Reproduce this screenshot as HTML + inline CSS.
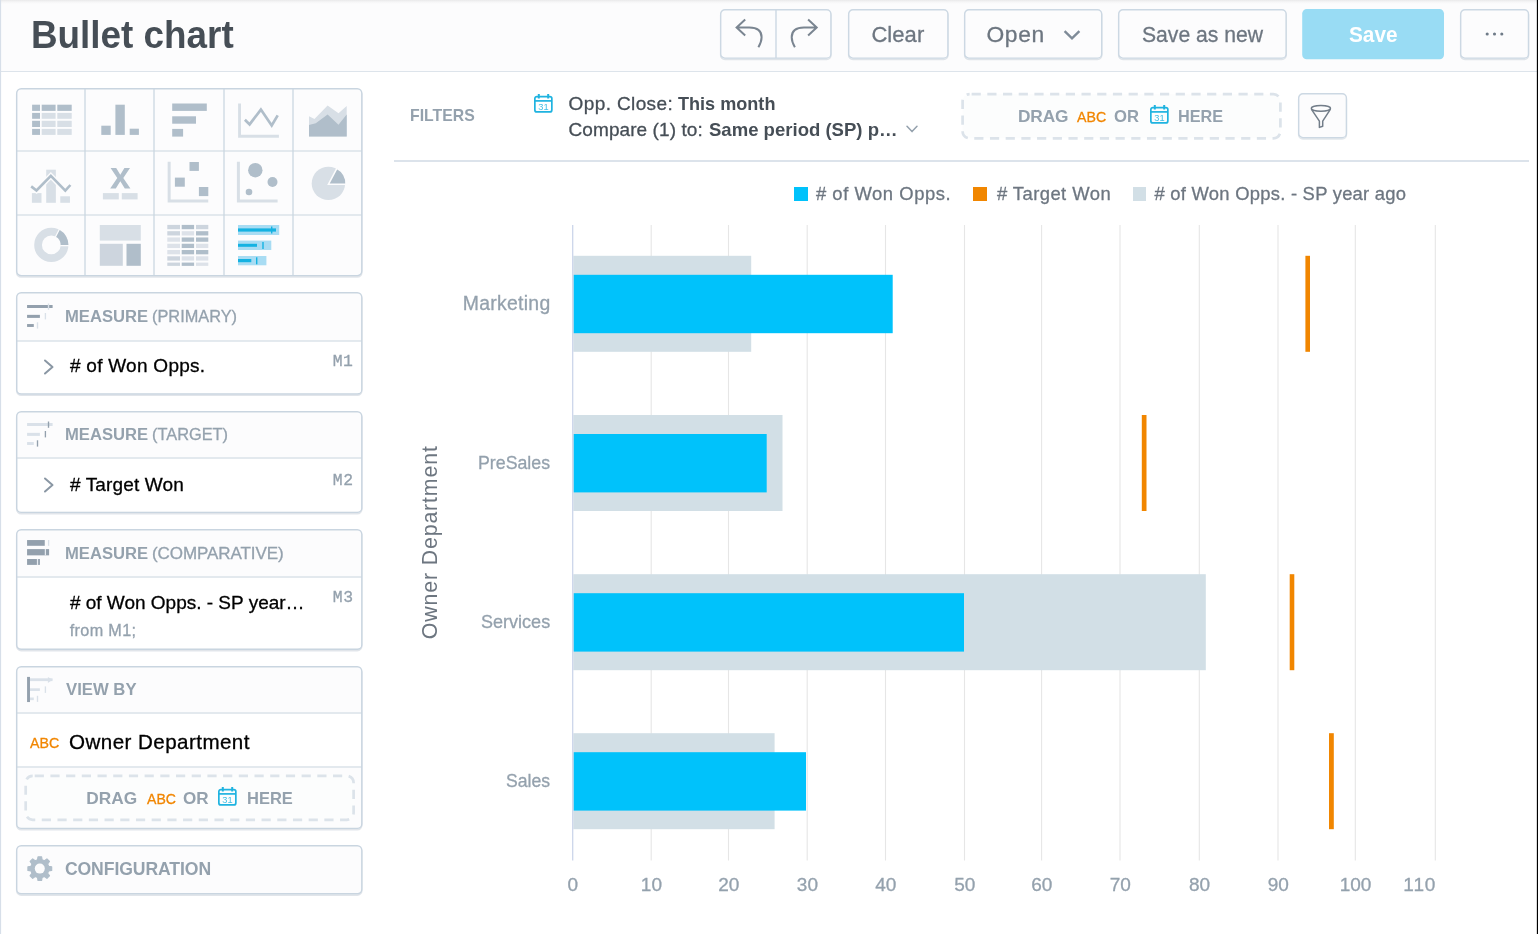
<!DOCTYPE html>
<html lang="en"><head><meta charset="utf-8"><title>Bullet chart</title><style>
html,body{margin:0;padding:0;}
body{width:1538px;height:934px;overflow:hidden;background:#fff;position:relative;font-family:"Liberation Sans",sans-serif;}
.a{position:absolute;box-sizing:border-box;display:block;}
.t{position:absolute;white-space:nowrap;line-height:1;font-family:"Liberation Sans",sans-serif;font-weight:400;}
.t{-webkit-text-stroke:0.3px currentColor;}
.t.b{font-weight:700;-webkit-text-stroke:0;}
.t.m{font-family:"Liberation Mono",monospace;}
</style></head>
<body>
<header>
<div class="a" style="left:0.00px;top:0.00px;width:1537.00px;height:71.00px;background:#fcfcfd;"></div>
<div class="a" style="left:0.00px;top:0.00px;width:1537.00px;height:4.00px;background:linear-gradient(#e9e9ea,#f6f6f7 50%,#fcfcfd);"></div>
<div class="a" style="left:0.00px;top:71.00px;width:1537.00px;height:1.00px;background:#dde4eb;"></div>
<svg class="a" style="left:0.00px;top:0.00px;" width="3" height="934" viewBox="0 0 3 934"><rect x="0" y="0" width="1.1" height="934" fill="#d7dfe9"/></svg>
<svg class="a" style="left:1534.00px;top:0.00px;" width="4" height="934" viewBox="0 0 4 934"><rect x="2.85" y="0" width="1.15" height="934" fill="#000"/></svg>
<span class="t b" style="left:30.73px;top:15px;font-size:39.50px;color:#464e56;transform-origin:0 0;transform:scaleX(0.9329);">Bullet chart</span>
<svg class="a" style="left:716.10px;top:5.10px;" width="119.6" height="57.8" viewBox="0 0 119.6 57.8"><rect x="4.70" y="6.00" width="110.20" height="48.40" rx="4.20" fill="none" stroke="rgba(20,56,93,0.12)" stroke-width="1.6"/><rect x="4.70" y="4.70" width="110.20" height="48.40" rx="4.20" fill="#fcfcfd" stroke="#ccd8e3" stroke-width="1.40"/></svg>
<svg class="a" style="left:773.80px;top:9.80px;" width="4" height="48.4" viewBox="0 0 4 48.4"><path d="M2 0 V48.40" stroke="#ccd8e3" stroke-width="1.40"/></svg>
<svg class="a" style="left:730.00px;top:14.00px;" width="40" height="40" viewBox="730 14 40 40"><path d="M745.2 19.6 L736.6 27.5 L745.2 35.4 M737 27.5 H749.3 C757 27.5 761.6 31 761.6 37.3 C761.6 41 760 44.5 758.4 47.3" fill="none" stroke="#7a8591" stroke-width="2" stroke-linecap="butt" stroke-linejoin="miter"/></svg>
<svg class="a" style="left:786.00px;top:14.00px;" width="40" height="40" viewBox="786 14 40 40"><path d="M808.1 19.6 L816.7 27.5 L808.1 35.4 M816.3 27.5 H804 C796.3 27.5 791.7 31 791.7 37.3 C791.7 41 793.3 44.5 794.9 47.3" fill="none" stroke="#7a8591" stroke-width="2" stroke-linecap="butt" stroke-linejoin="miter"/></svg>
<svg class="a" style="left:843.50px;top:5.10px;" width="108.6" height="57.8" viewBox="0 0 108.6 57.8"><rect x="4.70" y="6.00" width="99.20" height="48.40" rx="4.20" fill="none" stroke="rgba(20,56,93,0.12)" stroke-width="1.6"/><rect x="4.70" y="4.70" width="99.20" height="48.40" rx="4.20" fill="#fcfcfd" stroke="#ccd8e3" stroke-width="1.40"/></svg>
<span class="t" style="left:871.38px;top:24px;font-size:22.00px;color:#6d7680;letter-spacing:0.077px;">Clear</span>
<svg class="a" style="left:959.90px;top:5.10px;" width="146.4" height="57.8" viewBox="0 0 146.4 57.8"><rect x="4.70" y="6.00" width="137.00" height="48.40" rx="4.20" fill="none" stroke="rgba(20,56,93,0.12)" stroke-width="1.6"/><rect x="4.70" y="4.70" width="137.00" height="48.40" rx="4.20" fill="#fcfcfd" stroke="#ccd8e3" stroke-width="1.40"/></svg>
<span class="t" style="left:986.42px;top:23px;font-size:22.80px;color:#6d7680;letter-spacing:0.695px;">Open</span>
<svg class="a" style="left:1060.00px;top:26.00px;" width="24" height="18" viewBox="0 0 24 18"><path d="M4.6 5.2 L12 12.4 L19.4 5.2" fill="none" stroke="#7f8b98" stroke-width="2.4" stroke-linecap="butt" stroke-linejoin="miter"/></svg>
<svg class="a" style="left:1113.80px;top:5.10px;" width="176.8" height="57.8" viewBox="0 0 176.8 57.8"><rect x="4.70" y="6.00" width="167.40" height="48.40" rx="4.20" fill="none" stroke="rgba(20,56,93,0.12)" stroke-width="1.6"/><rect x="4.70" y="4.70" width="167.40" height="48.40" rx="4.20" fill="#fcfcfd" stroke="#ccd8e3" stroke-width="1.40"/></svg>
<span class="t" style="left:1141.74px;top:24px;font-size:22.00px;color:#6d7680;transform-origin:0 0;transform:scaleX(0.9614);">Save as new</span>
<svg class="a" style="left:1300.00px;top:7.00px;" width="146" height="54" viewBox="0 0 146 54"><rect x="2.2" y="2.1" width="141.8" height="50.1" rx="4.5" fill="#99dcf4"/></svg>
<span class="t b" style="left:1349.20px;top:24px;font-size:21.60px;color:#ffffff;transform-origin:0 0;transform:scaleX(0.9616);">Save</span>
<svg class="a" style="left:1455.80px;top:5.10px;" width="77.2" height="57.8" viewBox="0 0 77.2 57.8"><rect x="4.70" y="6.00" width="67.80" height="48.40" rx="4.20" fill="none" stroke="rgba(20,56,93,0.12)" stroke-width="1.6"/><rect x="4.70" y="4.70" width="67.80" height="48.40" rx="4.20" fill="#fcfcfd" stroke="#ccd8e3" stroke-width="1.40"/></svg>
<svg class="a" style="left:1480.00px;top:28.00px;" width="30" height="12" viewBox="1480 28 30 12"><circle cx="1487.2" cy="34.05" r="1.55" fill="#6f7b88"/><circle cx="1494.5" cy="34.05" r="1.55" fill="#6f7b88"/><circle cx="1501.8" cy="34.05" r="1.55" fill="#6f7b88"/></svg>
</header>
<aside>
<svg class="a" style="left:12.20px;top:84.00px;" width="354.5" height="196.3" viewBox="0 0 354.5 196.3"><rect x="4.70" y="6.00" width="345.10" height="186.90" rx="4.50" fill="none" stroke="rgba(20,56,93,0.13)" stroke-width="1.6"/><rect x="4.70" y="4.70" width="345.10" height="186.90" rx="4.50" fill="#fcfcfd" stroke="#c9d5e0" stroke-width="1.40"/></svg>
<svg class="a" style="left:82.70px;top:88.50px;" width="4" height="187.2" viewBox="0 0 4 187.2"><path d="M2 0 V187.20" stroke="#c9d5e0" stroke-width="1.25"/></svg>
<svg class="a" style="left:152.10px;top:88.50px;" width="4" height="187.2" viewBox="0 0 4 187.2"><path d="M2 0 V187.20" stroke="#c9d5e0" stroke-width="1.25"/></svg>
<svg class="a" style="left:221.50px;top:88.50px;" width="4" height="187.2" viewBox="0 0 4 187.2"><path d="M2 0 V187.20" stroke="#c9d5e0" stroke-width="1.25"/></svg>
<svg class="a" style="left:290.70px;top:88.50px;" width="4" height="187.2" viewBox="0 0 4 187.2"><path d="M2 0 V187.20" stroke="#c9d5e0" stroke-width="1.25"/></svg>
<svg class="a" style="left:16.80px;top:149.40px;" width="345.2" height="4" viewBox="0 0 345.2 4"><path d="M0 2 H345.20" stroke="#c9d5e0" stroke-width="1.25"/></svg>
<svg class="a" style="left:16.80px;top:212.50px;" width="345.2" height="4" viewBox="0 0 345.2 4"><path d="M0 2 H345.20" stroke="#c9d5e0" stroke-width="1.25"/></svg>
<svg class="a" style="left:0.00px;top:80.00px;" width="380" height="210" viewBox="0 80 380 210"><rect x="32.10" y="104.70" width="7.90" height="6.20" fill="#b0beca"/><rect x="41.70" y="104.70" width="13.90" height="6.20" fill="#b0beca"/><rect x="57.30" y="104.70" width="14.40" height="6.20" fill="#b0beca"/><rect x="32.10" y="112.90" width="7.90" height="5.90" fill="#b0beca"/><rect x="41.70" y="112.90" width="13.90" height="5.90" fill="#d8dfe6"/><rect x="57.30" y="112.90" width="14.40" height="5.90" fill="#d8dfe6"/><rect x="32.10" y="120.80" width="7.90" height="6.20" fill="#b0beca"/><rect x="41.70" y="120.80" width="13.90" height="6.20" fill="#d8dfe6"/><rect x="57.30" y="120.80" width="14.40" height="6.20" fill="#d8dfe6"/><rect x="32.10" y="128.90" width="7.90" height="6.00" fill="#b0beca"/><rect x="41.70" y="128.90" width="13.90" height="6.00" fill="#d8dfe6"/><rect x="57.30" y="128.90" width="14.40" height="6.00" fill="#d8dfe6"/><rect x="101.30" y="125.70" width="9.40" height="9.20" fill="#b0beca"/><rect x="115.40" y="104.70" width="9.40" height="30.20" fill="#b0beca"/><rect x="129.70" y="128.70" width="9.20" height="6.20" fill="#b0beca"/><rect x="172.20" y="103.50" width="34.60" height="7.40" fill="#b0beca"/><rect x="172.20" y="116.30" width="23.80" height="7.40" fill="#b0beca"/><rect x="172.20" y="128.90" width="10.90" height="7.70" fill="#b0beca"/><path d="M239.55 103.6 V136.25 H278.9" fill="none" stroke="#d8dfe6" stroke-width="2.9"/><path d="M244.9 119.8 L249.6 124.4 L260.9 109.6 L271.7 125.4 L277.7 115.4" fill="none" stroke="#b0beca" stroke-width="2.7"/><path d="M309 136.4 V116.2 L314.5 119.1 L327.6 105.5 L338.5 113.2 L346.7 105.9 V136.4 Z" fill="#d8dfe6"/><path d="M309 136.4 V125 L315.8 123.2 L327.6 114.4 L338.5 124.8 L346.7 114.4 V136.4 Z" fill="#b0beca"/><rect x="31.90" y="193.10" width="9.60" height="9.70" fill="#d8dfe6"/><rect x="46.20" y="169.70" width="9.65" height="33.10" fill="#d8dfe6"/><rect x="60.30" y="196.30" width="9.65" height="6.50" fill="#d8dfe6"/><path d="M31.2 186.4 L36.5 190.5 L50.85 175.9 L65.3 190.7 L70.4 185" fill="none" stroke="#fcfcfd" stroke-width="5.4"/><path d="M31.2 186.4 L36.5 190.5 L50.85 175.9 L65.3 190.7 L70.4 185" fill="none" stroke="#b0beca" stroke-width="2.6"/><path d="M110.2 188.6 L117.3 178 L110.6 167.9 H116.2 L120.3 174.8 L124.4 167.9 H130 L123.3 178 L130.4 188.6 H124.8 L120.3 181.3 L115.8 188.6 Z" fill="#b0beca"/><rect x="102.90" y="193.10" width="15.90" height="6.30" fill="#d8dfe6"/><rect x="121.80" y="193.10" width="15.80" height="6.30" fill="#d8dfe6"/><path d="M169.15 161.8 V201 H208.25" fill="none" stroke="#d8dfe6" stroke-width="3"/><rect x="189.50" y="162.00" width="9.40" height="8.90" fill="#b0beca"/><rect x="174.90" y="177.60" width="9.90" height="9.10" fill="#b0beca"/><rect x="198.90" y="187.00" width="9.40" height="9.10" fill="#b0beca"/><path d="M238.4 161.8 V201 H277.6" fill="none" stroke="#d8dfe6" stroke-width="3"/><circle cx="255.3" cy="170.2" r="7.2" fill="#b0beca"/><circle cx="272.5" cy="182" r="5" fill="#b0beca"/><circle cx="249" cy="192" r="3.3" fill="#b0beca"/><circle cx="328.4" cy="183.4" r="16.7" fill="#d8dfe6"/><path d="M328.4 184.3 L336.9 168.3 A16.7 16.7 0 0 1 346 184.3 Z" fill="#b0beca" stroke="#fcfcfd" stroke-width="1.5"/><circle cx="51.3" cy="244.9" r="13.25" fill="none" stroke="#d8dfe6" stroke-width="7.7"/><path d="M57.4 233.14 A13.25 13.25 0 0 1 64.55 245.6" fill="none" stroke="#b0beca" stroke-width="7.7"/><path d="M55.4 237.0 L59.8 228.5 M60.2 245.7 H69.5" fill="none" stroke="#fcfcfd" stroke-width="1.2"/><rect x="99.80" y="225.00" width="41.00" height="15.60" fill="#d8dfe6"/><rect x="99.80" y="243.80" width="23.00" height="22.00" fill="#cdd5de"/><rect x="126.50" y="243.80" width="14.30" height="22.00" fill="#b0beca"/><rect x="167.30" y="224.90" width="12.70" height="4.30" fill="#cdd5de"/><rect x="181.70" y="224.90" width="12.40" height="4.30" fill="#b0beca"/><rect x="196.00" y="224.90" width="12.30" height="4.30" fill="#cdd5de"/><rect x="167.30" y="231.18" width="12.70" height="4.30" fill="#cdd5de"/><rect x="181.70" y="231.18" width="12.40" height="4.30" fill="#dde2e9"/><rect x="196.00" y="231.18" width="12.30" height="4.30" fill="#b0beca"/><rect x="167.30" y="237.46" width="12.70" height="4.30" fill="#dde2e9"/><rect x="181.70" y="237.46" width="12.40" height="4.30" fill="#b0beca"/><rect x="196.00" y="237.46" width="12.30" height="4.30" fill="#b0beca"/><rect x="167.30" y="243.74" width="12.70" height="4.30" fill="#dde2e9"/><rect x="181.70" y="243.74" width="12.40" height="4.30" fill="#b0beca"/><rect x="196.00" y="243.74" width="12.30" height="4.30" fill="#dde2e9"/><rect x="167.30" y="250.02" width="12.70" height="4.30" fill="#dde2e9"/><rect x="181.70" y="250.02" width="12.40" height="4.30" fill="#b0beca"/><rect x="196.00" y="250.02" width="12.30" height="4.30" fill="#b0beca"/><rect x="167.30" y="256.30" width="12.70" height="4.30" fill="#cdd5de"/><rect x="181.70" y="256.30" width="12.40" height="4.30" fill="#dde2e9"/><rect x="196.00" y="256.30" width="12.30" height="4.30" fill="#dde2e9"/><rect x="167.30" y="262.58" width="12.70" height="3.30" fill="#cdd5de"/><rect x="181.70" y="262.58" width="12.40" height="3.30" fill="#b0beca"/><rect x="196.00" y="262.58" width="12.30" height="3.30" fill="#dde2e9"/><rect x="238.00" y="225.00" width="41.20" height="10.00" fill="#a8dcf3"/><rect x="238.00" y="240.60" width="33.30" height="9.40" fill="#a8dcf3"/><rect x="238.00" y="256.00" width="28.40" height="9.30" fill="#a8dcf3"/><rect x="238.00" y="228.40" width="38.00" height="3.20" fill="#14b2e2"/><rect x="238.00" y="243.80" width="19.00" height="3.00" fill="#14b2e2"/><rect x="238.00" y="259.00" width="13.30" height="3.20" fill="#14b2e2"/><rect x="271.00" y="226.50" width="1.40" height="7.00" fill="#14b2e2"/><rect x="262.30" y="242.00" width="1.40" height="7.00" fill="#14b2e2"/><rect x="256.00" y="257.30" width="1.40" height="7.00" fill="#14b2e2"/></svg>
<svg class="a" style="left:12.20px;top:288.20px;" width="354.5" height="110.7" viewBox="0 0 354.5 110.7"><rect x="4.70" y="6.00" width="345.10" height="101.30" rx="4.50" fill="none" stroke="rgba(20,56,93,0.13)" stroke-width="1.6"/><rect x="4.70" y="4.70" width="345.10" height="101.30" rx="4.50" fill="#fcfcfd" stroke="#c9d5e0" stroke-width="1.40"/></svg>
<div class="a" style="left:18.00px;top:341.00px;width:343.00px;height:52.00px;background:#fff;border-radius:0 0 3px 3px;"></div>
<span class="t b" style="left:64.89px;top:308px;font-size:17.20px;color:#94a1ad;transform-origin:0 0;transform:scaleX(0.9669);">MEASURE</span>
<span class="t" style="left:151.99px;top:308px;font-size:17.00px;color:#94a1ad;transform-origin:0 0;transform:scaleX(0.9610);">(PRIMARY)</span>
<svg class="a" style="left:16.80px;top:338.50px;" width="345.2" height="4" viewBox="0 0 345.2 4"><path d="M0 2 H345.20" stroke="#c9d5e0" stroke-width="1.25"/></svg>
<svg class="a" style="left:20.00px;top:298.00px;" width="40" height="36" viewBox="20 298 40 36"><rect x="27.07" y="305.00" width="25.53" height="3.00" fill="#93a0ad"/><rect x="27.07" y="314.85" width="12.83" height="3.05" fill="#93a0ad"/><rect x="27.07" y="324.05" width="6.73" height="2.90" fill="#93a0ad"/><rect x="47.83" y="303.50" width="1.35" height="6.30" fill="#dae1e9"/><rect x="44.73" y="313.00" width="1.35" height="6.40" fill="#dae1e9"/><rect x="36.83" y="322.30" width="1.35" height="6.30" fill="#dae1e9"/></svg>
<svg class="a" style="left:41.50px;top:358.00px;" width="14" height="18" viewBox="0 0 14 18"><path d="M3 2.5 L10.5 9 L3 15.5" fill="none" stroke="#8a97a4" stroke-width="2" stroke-linecap="round" stroke-linejoin="round"/></svg>
<span class="t" style="left:69.92px;top:356px;font-size:19.00px;color:#000;letter-spacing:0.273px;"># of Won Opps.</span>
<span class="t m" style="left:332.67px;top:354px;font-size:16.40px;color:#94a1ad;letter-spacing:0.443px;">M1</span>
<svg class="a" style="left:12.20px;top:406.80px;" width="354.5" height="110.1" viewBox="0 0 354.5 110.1"><rect x="4.70" y="6.00" width="345.10" height="100.70" rx="4.50" fill="none" stroke="rgba(20,56,93,0.13)" stroke-width="1.6"/><rect x="4.70" y="4.70" width="345.10" height="100.70" rx="4.50" fill="#fcfcfd" stroke="#c9d5e0" stroke-width="1.40"/></svg>
<div class="a" style="left:18.00px;top:459.00px;width:343.00px;height:52.00px;background:#fff;border-radius:0 0 3px 3px;"></div>
<span class="t b" style="left:64.89px;top:426px;font-size:17.20px;color:#94a1ad;transform-origin:0 0;transform:scaleX(0.9669);">MEASURE</span>
<span class="t" style="left:151.99px;top:426px;font-size:17.00px;color:#94a1ad;transform-origin:0 0;transform:scaleX(0.9623);">(TARGET)</span>
<svg class="a" style="left:16.80px;top:456.20px;" width="345.2" height="4" viewBox="0 0 345.2 4"><path d="M0 2 H345.20" stroke="#c9d5e0" stroke-width="1.25"/></svg>
<svg class="a" style="left:20.00px;top:416.00px;" width="40" height="36" viewBox="20 416 40 36"><rect x="27.07" y="423.00" width="25.53" height="3.00" fill="#dae1e9"/><rect x="27.07" y="432.85" width="12.83" height="3.05" fill="#dae1e9"/><rect x="27.07" y="442.05" width="6.73" height="2.90" fill="#dae1e9"/><rect x="47.83" y="421.50" width="1.35" height="6.30" fill="#93a0ad"/><rect x="44.73" y="431.00" width="1.35" height="6.40" fill="#93a0ad"/><rect x="36.83" y="440.30" width="1.35" height="6.30" fill="#93a0ad"/></svg>
<svg class="a" style="left:41.50px;top:476.00px;" width="14" height="18" viewBox="0 0 14 18"><path d="M3 2.5 L10.5 9 L3 15.5" fill="none" stroke="#8a97a4" stroke-width="2" stroke-linecap="round" stroke-linejoin="round"/></svg>
<span class="t" style="left:69.92px;top:475px;font-size:19.00px;color:#000;letter-spacing:0.137px;"># Target Won</span>
<span class="t m" style="left:332.67px;top:473px;font-size:16.40px;color:#94a1ad;letter-spacing:0.812px;">M2</span>
<svg class="a" style="left:12.20px;top:524.80px;" width="354.5" height="129" viewBox="0 0 354.5 129"><rect x="4.70" y="6.00" width="345.10" height="119.60" rx="4.50" fill="none" stroke="rgba(20,56,93,0.13)" stroke-width="1.6"/><rect x="4.70" y="4.70" width="345.10" height="119.60" rx="4.50" fill="#fcfcfd" stroke="#c9d5e0" stroke-width="1.40"/></svg>
<div class="a" style="left:18.00px;top:578.00px;width:343.00px;height:70.00px;background:#fff;border-radius:0 0 3px 3px;"></div>
<span class="t b" style="left:64.89px;top:545px;font-size:17.20px;color:#94a1ad;transform-origin:0 0;transform:scaleX(0.9669);">MEASURE</span>
<span class="t" style="left:151.95px;top:545px;font-size:17.00px;color:#94a1ad;letter-spacing:-0.070px;">(COMPARATIVE)</span>
<svg class="a" style="left:16.80px;top:574.80px;" width="345.2" height="4" viewBox="0 0 345.2 4"><path d="M0 2 H345.20" stroke="#c9d5e0" stroke-width="1.25"/></svg>
<svg class="a" style="left:20.00px;top:536.00px;" width="40" height="32" viewBox="20 536 40 32"><rect x="27.07" y="540.05" width="17.69" height="5.75" fill="#93a0ad"/><rect x="27.07" y="549.10" width="22.03" height="6.25" fill="#93a0ad"/><rect x="27.07" y="559.00" width="12.83" height="5.90" fill="#93a0ad"/><rect x="47.95" y="540.05" width="1.3" height="5.75" fill="#dae1e9"/><rect x="44.76" y="549.0" width="1.25" height="6.45" fill="#e6ebf0"/><rect x="36.9" y="558.9" width="1.25" height="6.1" fill="#e6ebf0"/></svg>
<span class="t" style="left:69.92px;top:593px;font-size:19.00px;color:#000;letter-spacing:-0.005px;"># of Won Opps. - SP year…</span>
<span class="t" style="left:69.77px;top:622px;font-size:16.20px;color:#94a1ad;letter-spacing:0.340px;">from M1;</span>
<span class="t m" style="left:332.67px;top:590px;font-size:16.40px;color:#94a1ad;letter-spacing:0.691px;">M3</span>
<svg class="a" style="left:12.20px;top:661.80px;" width="354.5" height="171.1" viewBox="0 0 354.5 171.1"><rect x="4.70" y="6.00" width="345.10" height="161.70" rx="4.50" fill="none" stroke="rgba(20,56,93,0.13)" stroke-width="1.6"/><rect x="4.70" y="4.70" width="345.10" height="161.70" rx="4.50" fill="#fcfcfd" stroke="#c9d5e0" stroke-width="1.40"/></svg>
<div class="a" style="left:18.00px;top:714.00px;width:343.00px;height:52.00px;background:#fff;"></div>
<span class="t b" style="left:65.89px;top:681px;font-size:17.20px;color:#94a1ad;transform-origin:0 0;transform:scaleX(0.9718);">VIEW BY</span>
<svg class="a" style="left:16.80px;top:711.30px;" width="345.2" height="4" viewBox="0 0 345.2 4"><path d="M0 2 H345.20" stroke="#c9d5e0" stroke-width="1.25"/></svg>
<svg class="a" style="left:20.00px;top:672.00px;" width="40" height="34" viewBox="20 672 40 34"><rect x="29.90" y="678.30" width="22.66" height="2.80" fill="#dae1e9"/><rect x="29.90" y="688.30" width="10.00" height="2.65" fill="#dae1e9"/><rect x="29.90" y="697.50" width="3.90" height="2.65" fill="#dae1e9"/><path d="M47.9 676.9 L52.6 679.7 L47.9 682.9 Z" fill="#dae1e9"/><rect x="44.73" y="686.40" width="1.35" height="6.50" fill="#dae1e9"/><rect x="36.83" y="695.80" width="1.35" height="6.10" fill="#dae1e9"/><rect x="27.07" y="676.9" width="2.9" height="25.15" fill="#93a0ad"/></svg>
<span class="t" style="left:30.17px;top:735px;font-size:15.20px;color:#f18600;transform-origin:0 0;transform:scaleX(0.9365);">ABC</span>
<span class="t" style="left:69.02px;top:732px;font-size:20.60px;color:#000;letter-spacing:0.433px;">Owner Department</span>
<svg class="a" style="left:16.80px;top:764.80px;" width="345.2" height="4" viewBox="0 0 345.2 4"><path d="M0 2 H345.20" stroke="#c9d5e0" stroke-width="1.25"/></svg>
<svg class="a" style="left:22.00px;top:772.00px;" width="336" height="52" viewBox="0 0 336 52"><rect x="3.7" y="3.8" width="327.9" height="44" rx="7" ry="7" fill="#fcfdfd" stroke="#dce3ea" stroke-width="2.7" stroke-dasharray="9.2 6.5" stroke-dashoffset="-2"/></svg>
<span class="t b" style="left:86.14px;top:790px;font-size:17.30px;color:#94a1ad;letter-spacing:0.064px;">DRAG</span>
<span class="t" style="left:146.97px;top:791px;font-size:15.20px;color:#f18600;transform-origin:0 0;transform:scaleX(0.9267);">ABC</span>
<span class="t b" style="left:182.90px;top:790px;font-size:17.30px;color:#94a1ad;transform-origin:0 0;transform:scaleX(0.9885);">OR</span>
<span class="t b" style="left:246.60px;top:790px;font-size:17.30px;color:#94a1ad;transform-origin:0 0;transform:scaleX(0.9538);">HERE</span>
<svg class="a" style="left:217.90px;top:787.00px;" width="18.7" height="18.8" viewBox="0 0 18.7 18.8"><g fill="none" stroke="#1fb3e0" stroke-width="1.7"><rect x="0.85" y="2.55" width="17" height="15.4" rx="2"/><path d="M0.85 6.9 H17.85"/><path d="M4.8 0 V4.4 M14.2 0 V4.4" stroke-width="2"/></g><text x="9.5" y="15.9" font-family="Liberation Sans, sans-serif" font-size="9.3" fill="#1fb3e0" fill-opacity="0.85" text-anchor="middle">31</text></svg>
<svg class="a" style="left:12.20px;top:841.40px;" width="354.5" height="57.5" viewBox="0 0 354.5 57.5"><rect x="4.70" y="6.00" width="345.10" height="48.10" rx="4.50" fill="none" stroke="rgba(20,56,93,0.13)" stroke-width="1.6"/><rect x="4.70" y="4.70" width="345.10" height="48.10" rx="4.50" fill="#fcfcfd" stroke="#c9d5e0" stroke-width="1.40"/></svg>
<span class="t b" style="left:64.88px;top:861px;font-size:17.60px;color:#94a1ad;letter-spacing:-0.083px;">CONFIGURATION</span>
<svg class="a" style="left:24.00px;top:853.00px;" width="32" height="32" viewBox="24 853 32 32"><path d="M37.55 859.78 L38.01 856.73 L41.59 856.73 L42.05 859.78 L44.44 860.77 L46.92 858.94 L49.46 861.48 L47.63 863.96 L48.62 866.35 L51.67 866.81 L51.67 870.39 L48.62 870.85 L47.63 873.24 L49.46 875.72 L46.92 878.26 L44.44 876.43 L42.05 877.42 L41.59 880.47 L38.01 880.47 L37.55 877.42 L35.16 876.43 L32.68 878.26 L30.14 875.72 L31.97 873.24 L30.98 870.85 L27.93 870.39 L27.93 866.81 L30.98 866.35 L31.97 863.96 L30.14 861.48 L32.68 858.94 L35.16 860.77 Z" fill="#b0beca" stroke="#b0beca" stroke-width="1.2" stroke-linejoin="round"/><circle cx="39.80" cy="868.60" r="5" fill="#fcfcfd"/></svg>
</aside>
<main>
<span class="t b" style="left:410.44px;top:107px;font-size:17.00px;color:#94a1ad;transform-origin:0 0;transform:scaleX(0.9296);">FILTERS</span>
<svg class="a" style="left:534.20px;top:94.10px;" width="18.7" height="18.8" viewBox="0 0 18.7 18.8"><g fill="none" stroke="#1fb3e0" stroke-width="1.7"><rect x="0.85" y="2.55" width="17" height="15.4" rx="2"/><path d="M0.85 6.9 H17.85"/><path d="M4.8 0 V4.4 M14.2 0 V4.4" stroke-width="2"/></g><text x="9.5" y="15.9" font-family="Liberation Sans, sans-serif" font-size="9.3" fill="#1fb3e0" fill-opacity="0.85" text-anchor="middle">31</text></svg>
<span class="t" style="left:568.60px;top:94px;font-size:19.00px;color:#464e56;letter-spacing:0.381px;">Opp. Close:</span>
<span class="t b" style="left:678.30px;top:94px;font-size:19.00px;color:#464e56;transform-origin:0 0;transform:scaleX(0.9516);">This month</span>
<span class="t" style="left:568.54px;top:120px;font-size:19.00px;color:#464e56;letter-spacing:0.082px;">Compare (1) to:</span>
<span class="t b" style="left:708.87px;top:120px;font-size:19.00px;color:#464e56;transform-origin:0 0;transform:scaleX(0.9758);">Same period (SP) p…</span>
<svg class="a" style="left:904.30px;top:122.60px;" width="16" height="12" viewBox="0 0 16 12"><path d="M3 3.2 L8 8.6 L13 3.2" fill="none" stroke="#94a1ad" stroke-width="1.5" stroke-linecap="round" stroke-linejoin="round"/></svg>
<svg class="a" style="left:959.00px;top:90.00px;" width="326" height="52" viewBox="0 0 326 52"><rect x="3.6" y="4.2" width="317.8" height="44.1" rx="7" ry="7" fill="#fcfdfd" stroke="#dce3ea" stroke-width="2.7" stroke-dasharray="9.2 6.5" stroke-dashoffset="-2"/></svg>
<span class="t b" style="left:1017.94px;top:108px;font-size:17.30px;color:#94a1ad;letter-spacing:-0.136px;">DRAG</span>
<span class="t" style="left:1076.97px;top:109px;font-size:15.20px;color:#f18600;transform-origin:0 0;transform:scaleX(0.9332);">ABC</span>
<span class="t b" style="left:1114.32px;top:108px;font-size:17.30px;color:#94a1ad;transform-origin:0 0;transform:scaleX(0.9644);">OR</span>
<svg class="a" style="left:1149.90px;top:105.20px;" width="18.7" height="18.8" viewBox="0 0 18.7 18.8"><g fill="none" stroke="#1fb3e0" stroke-width="1.7"><rect x="0.85" y="2.55" width="17" height="15.4" rx="2"/><path d="M0.85 6.9 H17.85"/><path d="M4.8 0 V4.4 M14.2 0 V4.4" stroke-width="2"/></g><text x="9.5" y="15.9" font-family="Liberation Sans, sans-serif" font-size="9.3" fill="#1fb3e0" fill-opacity="0.85" text-anchor="middle">31</text></svg>
<span class="t b" style="left:1178.31px;top:108px;font-size:17.30px;color:#94a1ad;transform-origin:0 0;transform:scaleX(0.9409);">HERE</span>
<svg class="a" style="left:1293.70px;top:88.50px;" width="57.1" height="53.3" viewBox="0 0 57.1 53.3"><rect x="4.70" y="6.00" width="47.70" height="43.90" rx="4.20" fill="none" stroke="rgba(20,56,93,0.12)" stroke-width="1.6"/><rect x="4.70" y="4.70" width="47.70" height="43.90" rx="4.20" fill="#fcfcfd" stroke="#ccd8e3" stroke-width="1.40"/></svg>
<svg class="a" style="left:1306.00px;top:100.00px;" width="32" height="32" viewBox="1306 100 32 32"><g fill="none" stroke="#727d89" stroke-width="1.5" stroke-linejoin="round"><ellipse cx="1320.9" cy="108.3" rx="9.6" ry="2.9"/><path d="M1311.3 109.2 L1319.4 121.2 V127.4 L1322.7 126.2 V121.2 L1330.5 109.2"/></g></svg>
<svg class="a" style="left:394.00px;top:158.60px;" width="1135" height="4" viewBox="0 0 1135 4"><path d="M0 2 H1135.00" stroke="#d0dae4" stroke-width="1.50"/></svg>
<svg class="a" style="left:394.00px;top:170.00px;" width="1136" height="764" viewBox="394 170 1136 764"><path d="M651.20 225 V860.5" stroke="#e6e6e6" stroke-width="1.1" fill="none"/><path d="M728.50 225 V860.5" stroke="#e6e6e6" stroke-width="1.1" fill="none"/><path d="M807.20 225 V860.5" stroke="#e6e6e6" stroke-width="1.1" fill="none"/><path d="M885.50 225 V860.5" stroke="#e6e6e6" stroke-width="1.1" fill="none"/><path d="M964.50 225 V860.5" stroke="#e6e6e6" stroke-width="1.1" fill="none"/><path d="M1041.60 225 V860.5" stroke="#e6e6e6" stroke-width="1.1" fill="none"/><path d="M1120.00 225 V860.5" stroke="#e6e6e6" stroke-width="1.1" fill="none"/><path d="M1199.30 225 V860.5" stroke="#e6e6e6" stroke-width="1.1" fill="none"/><path d="M1278.00 225 V860.5" stroke="#e6e6e6" stroke-width="1.1" fill="none"/><path d="M1355.30 225 V860.5" stroke="#e6e6e6" stroke-width="1.1" fill="none"/><path d="M1435.30 225 V860.5" stroke="#e6e6e6" stroke-width="1.1" fill="none"/><rect x="573.3" y="255.8" width="177.90" height="96" fill="#d2dfe6"/><rect x="573.6" y="274.8" width="319.10" height="58.4" fill="#00c2fb"/><rect x="1305.40" y="255.8" width="4.60" height="96" fill="#f18600"/><rect x="573.3" y="415" width="209.20" height="96" fill="#d2dfe6"/><rect x="573.6" y="434" width="193.10" height="58.4" fill="#00c2fb"/><rect x="1141.80" y="415" width="4.70" height="96" fill="#f18600"/><rect x="573.3" y="574.2" width="632.50" height="96" fill="#d2dfe6"/><rect x="573.6" y="593.2" width="390.40" height="58.4" fill="#00c2fb"/><rect x="1289.70" y="574.2" width="4.60" height="96" fill="#f18600"/><rect x="573.3" y="733.2" width="201.30" height="96" fill="#d2dfe6"/><rect x="573.6" y="752.2" width="232.40" height="58.4" fill="#00c2fb"/><rect x="1329.00" y="733.2" width="4.80" height="96" fill="#f18600"/><path d="M572.70 225 V860.5" stroke="#ccd6eb" stroke-width="1.3" fill="none"/></svg>
<div class="a" style="left:794.20px;top:187.00px;width:14.20px;height:14.00px;background:#00c2fb;"></div>
<span class="t" style="left:815.92px;top:185px;font-size:18.40px;color:#6d7680;letter-spacing:0.558px;"># of Won Opps.</span>
<div class="a" style="left:973.40px;top:187.00px;width:14.00px;height:14.00px;background:#f18600;"></div>
<span class="t" style="left:996.92px;top:185px;font-size:18.40px;color:#6d7680;letter-spacing:0.455px;"># Target Won</span>
<div class="a" style="left:1132.50px;top:187.00px;width:13.80px;height:14.00px;background:#d2dfe6;"></div>
<span class="t" style="left:1154.52px;top:185px;font-size:18.40px;color:#6d7680;letter-spacing:0.254px;"># of Won Opps. - SP year ago</span>
<span class="t" style="left:462.81px;top:294px;font-size:19.40px;color:#94a1ad;letter-spacing:0.283px;">Marketing</span>
<span class="t" style="left:477.74px;top:454px;font-size:18.60px;color:#94a1ad;transform-origin:0 0;transform:scaleX(0.9553);">PreSales</span>
<span class="t" style="left:480.68px;top:613px;font-size:18.60px;color:#94a1ad;transform-origin:0 0;transform:scaleX(0.9698);">Services</span>
<span class="t" style="left:505.70px;top:772px;font-size:18.60px;color:#94a1ad;transform-origin:0 0;transform:scaleX(0.9486);">Sales</span>
<svg class="a" style="left:410.00px;top:436.00px;" width="40" height="212" viewBox="0 0 40 212"><text transform="translate(27.1 203.21) rotate(-90)" font-family="Liberation Sans, sans-serif" font-size="21.3" fill="#6d7680" letter-spacing="0.875">Owner Department</text></svg>
<span class="t" style="left:567.62px;top:875px;font-size:19.00px;color:#94a1ad;">0</span>
<span class="t" style="left:640.83px;top:875px;font-size:19.00px;color:#94a1ad;">10</span>
<span class="t" style="left:718.13px;top:875px;font-size:19.00px;color:#94a1ad;">20</span>
<span class="t" style="left:796.83px;top:875px;font-size:19.00px;color:#94a1ad;">30</span>
<span class="t" style="left:875.13px;top:875px;font-size:19.00px;color:#94a1ad;">40</span>
<span class="t" style="left:954.13px;top:875px;font-size:19.00px;color:#94a1ad;">50</span>
<span class="t" style="left:1031.23px;top:875px;font-size:19.00px;color:#94a1ad;">60</span>
<span class="t" style="left:1109.63px;top:875px;font-size:19.00px;color:#94a1ad;">70</span>
<span class="t" style="left:1188.93px;top:875px;font-size:19.00px;color:#94a1ad;">80</span>
<span class="t" style="left:1267.63px;top:875px;font-size:19.00px;color:#94a1ad;">90</span>
<span class="t" style="left:1339.65px;top:875px;font-size:19.00px;color:#94a1ad;">100</span>
<span class="t" style="left:1403.30px;top:875px;font-size:19.00px;color:#94a1ad;letter-spacing:0.924px;">110</span>
</main>
</body></html>
